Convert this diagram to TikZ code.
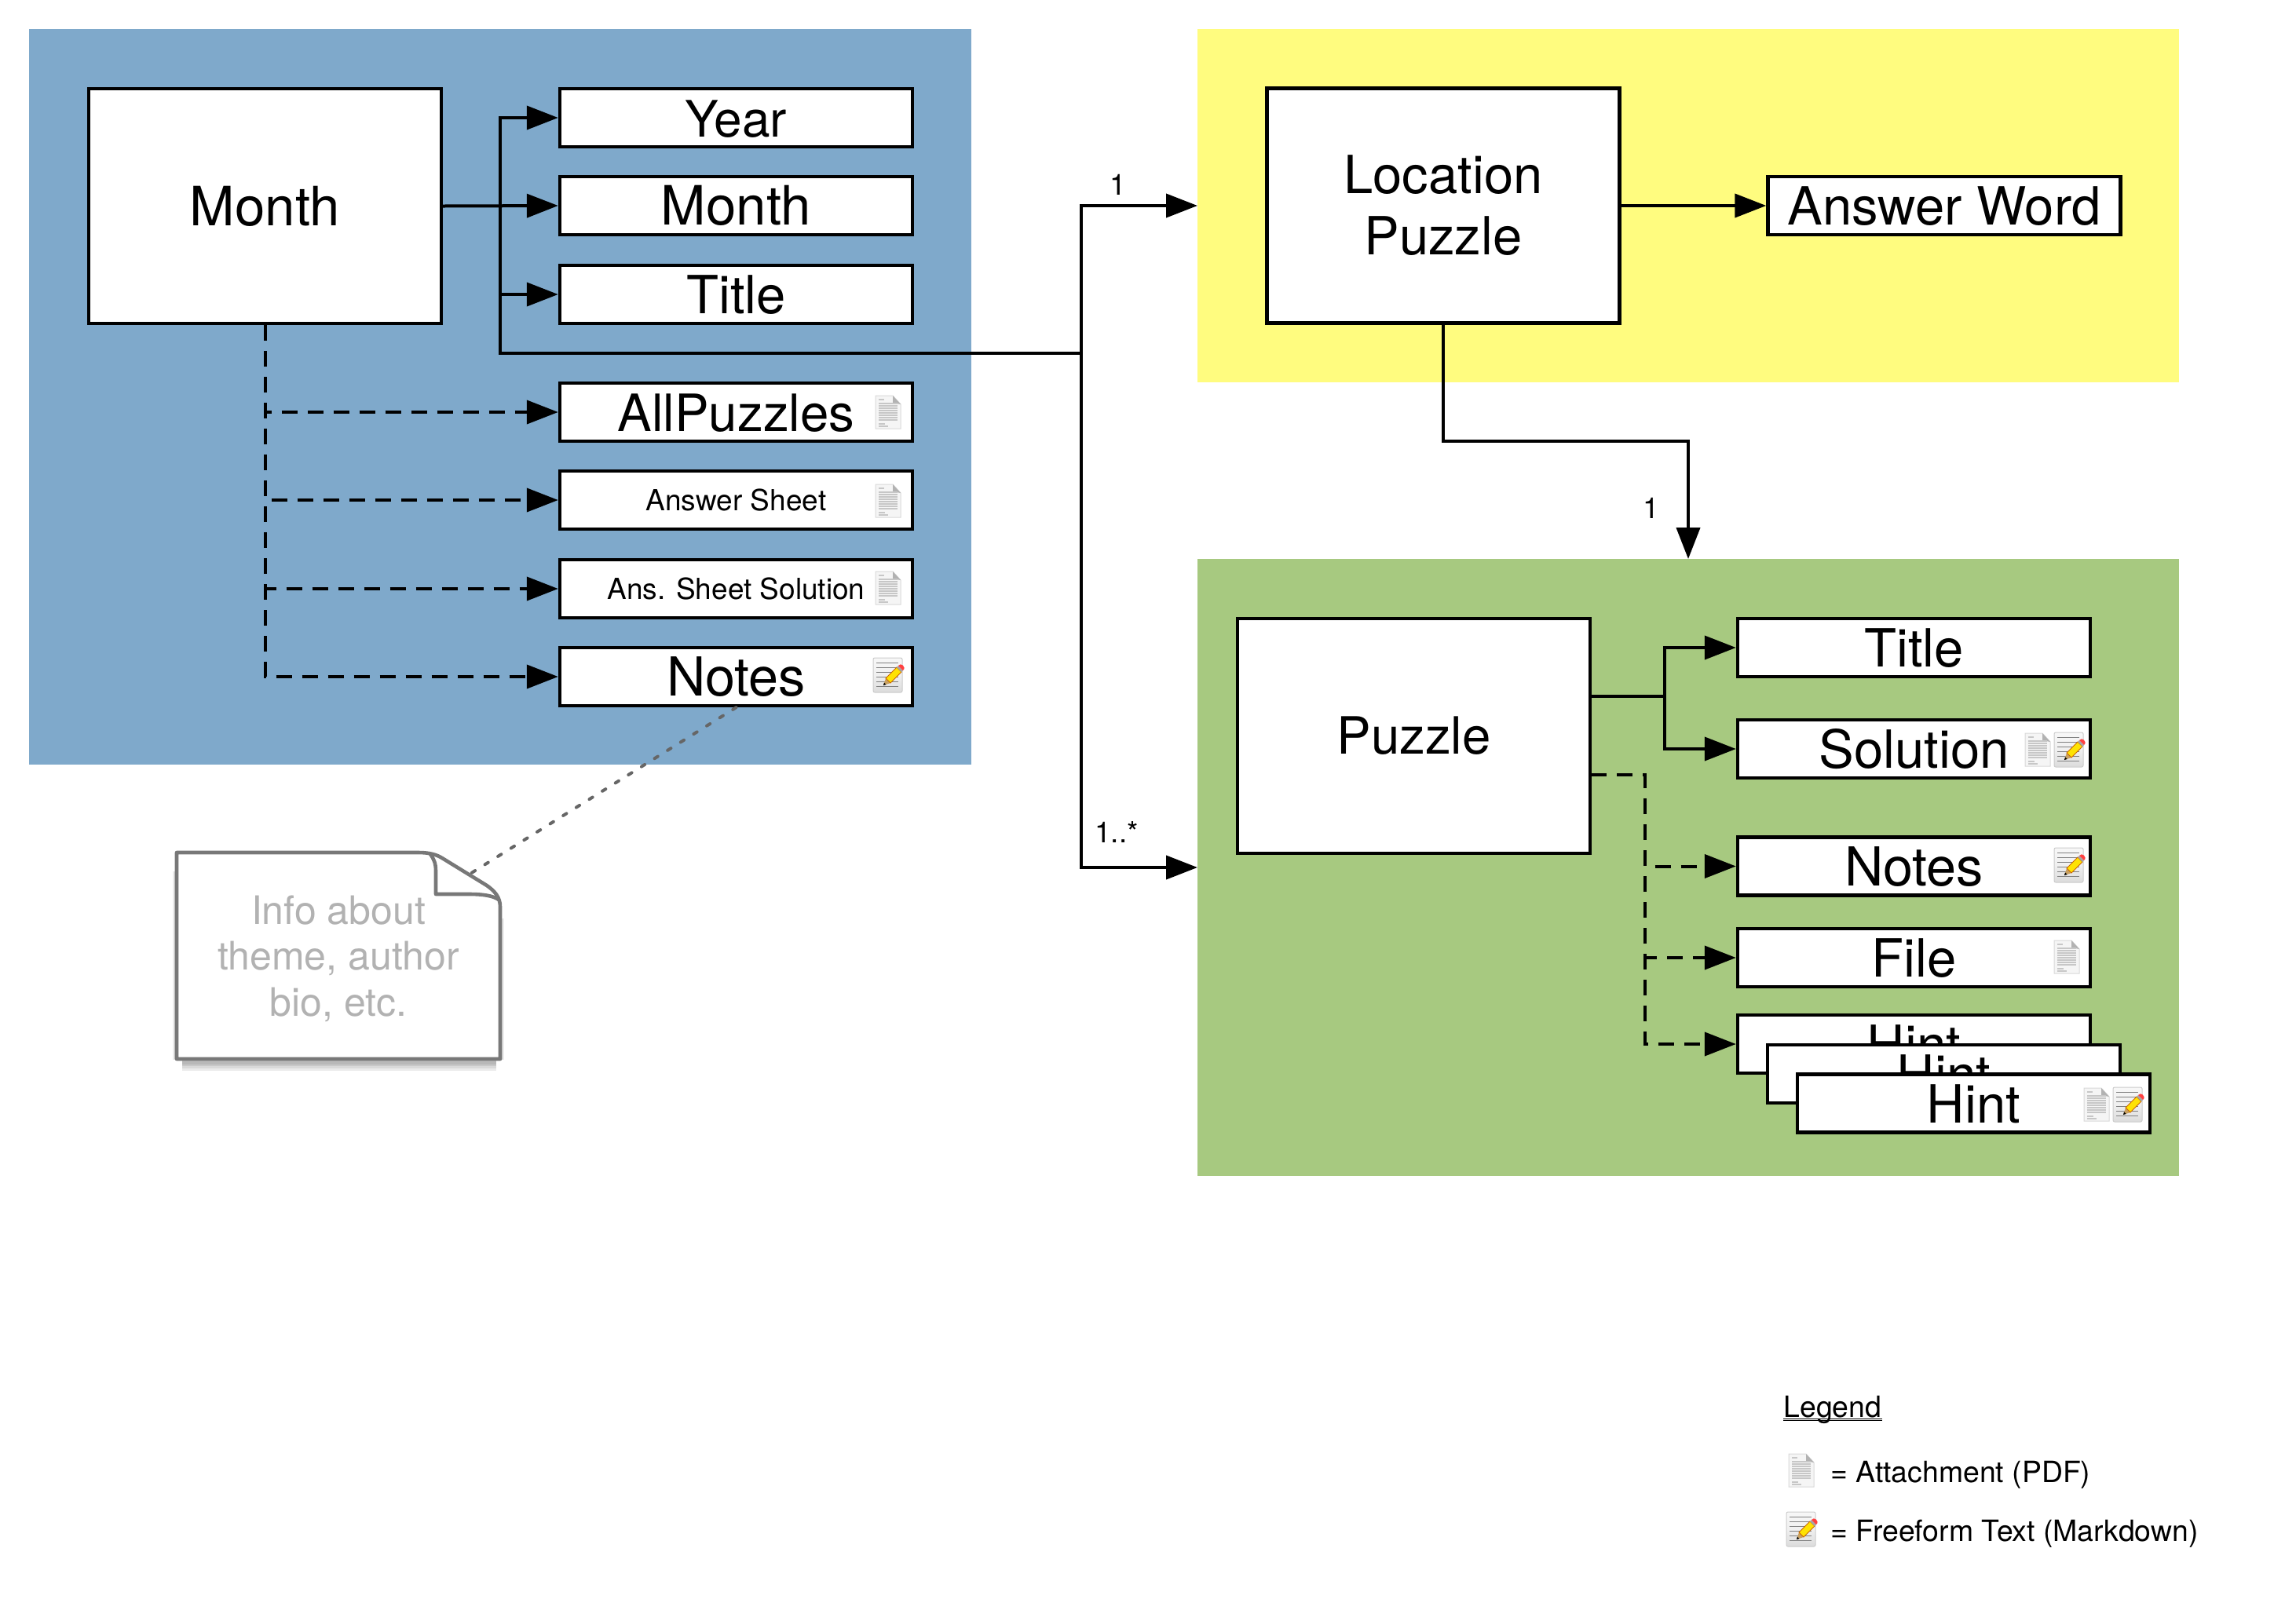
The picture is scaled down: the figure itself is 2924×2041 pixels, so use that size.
\documentclass[tikz,border=0pt]{standalone}
\usepackage{fontspec}
\setmainfont{TeX Gyre Heros}
\usetikzlibrary{arrows.meta}
\definecolor{bluebg}{HTML}{7FA9CB}
\definecolor{yellowbg}{HTML}{FFFC7F}
\definecolor{greenbg}{HTML}{A7C980}
\definecolor{notegray}{HTML}{787878}
\definecolor{pencilwood}{HTML}{C8A060}
\tikzset{
  region/.style={inner sep=0pt,outer sep=0pt,minimum width=#1},
  bigbox/.style={draw=black,line width=2.2pt,fill=white,minimum width=224.5pt,minimum height=149.5pt,inner sep=0pt,font=\fontsize{33.5}{39}\selectfont,align=center},
  fieldbox/.style={draw=black,line width=2.2pt,fill=white,minimum width=224.5pt,minimum height=37pt,inner sep=0pt,text height=24.6pt,text depth=0pt,font=\fontsize{33.5}{39}\selectfont},
  smallfield/.style={fieldbox,text height=13.3pt,font=\fontsize{18.5}{22}\selectfont},
  fs/.style={font=\fontsize{#1}{39}\selectfont},
  conn/.style={draw=black,line width=2pt,-{Triangle[length=20pt,width=15pt]}},
  plainconn/.style={draw=black,line width=2pt},
  dashconn/.style={conn,dash pattern=on 10pt off 6.5pt},
  notelink/.style={draw=black!60,line width=2pt,line cap=round,dash pattern=on 2.5pt off 7.3pt},
  smalllabel/.style={inner sep=0pt,font=\fontsize{18.5}{22}\selectfont},
  legendlabel/.style={inner sep=0pt,font=\fontsize{18.7}{22}\selectfont},
  notetext/.style={inner sep=0pt,align=center,text=black!30,font=\fontsize{25}{29.3}\selectfont},
  pics/docicon/.style={code={
    \path[fill=white!96!black,draw=black!15,line width=.5pt] (-16,-21) -- (6,-21) -- (16,-10) -- (16,21) -- (-16,21) -- cycle;
    \path[fill=black!30] (6,-21) -- (16,-10) -- (6,-12) -- cycle;
    \draw[black!22,line width=.9pt] (-12,-16) -- (-5,-16);
    \foreach \yy in {-11,-8,-5,-2,1,4,7,10} {\draw[black!22,line width=.9pt] (-12,\yy) -- (12,\yy);}
    \draw[black!22,line width=.7pt] (-12,15) -- (-4,15) (-12,18) -- (0,18);
  }},
  pics/noteicon/.style={code={
    \path[rounded corners=1pt,top color=white!97!black,bottom color=black!14,middle color=white!94!black,draw=black!20,line width=.5pt] (-21,-22) rectangle (16,22);
    \foreach \yy in {-16,-10,-4,2,8,14} {\draw[black!50,line width=.5pt] (-17,\yy) -- (11,\yy);}
    \path[fill=pencilwood] (-8,13) -- (-5,4) -- (1,10) -- cycle;
    \path[fill=black] (-8,13) -- (-7,9.5) -- (-4.5,12) -- cycle;
    \path[fill=yellow!85!orange,draw=orange!80!black,line width=.4pt] (-5,4) -- (9,-10) -- (15,-4) -- (1,10) -- cycle;
    \path[fill=black!35] (9,-10) -- (11,-12) -- (17,-6) -- (15,-4) -- cycle;
    \path[fill=red!75!white] (11,-12) .. controls (14,-17) and (22,-10) .. (17,-6) -- cycle;
  }}
}
\begin{document}
\begin{tikzpicture}[x=0.5pt,y=-0.5pt]
\useasboundingbox (0,0) rectangle (2924,2041);
% regions
\node[region=600pt,minimum height=468.5pt,fill=bluebg] (bluereg) at (637,505.5) {};
\node[region=625pt,minimum height=225pt,fill=yellowbg] (yellowreg) at (2150,262) {};
\node[region=625pt,minimum height=393pt,fill=greenbg] (greenreg) at (2150,1105) {};
% month group
\node[bigbox,fs=34.5] (month) at (337.5,262.5) {Month};
\node[fieldbox,fs=32] (year) at (937.5,150) {Year};
\node[fieldbox,fs=34.5] (monthf) at (937.5,262) {Month};
\node[fieldbox] (titlef) at (937.5,375) {Title};
\node[fieldbox,fs=32.7] (allp) at (937.5,525) {AllPuzzles};
\node[smallfield] (anss) at (937.5,637) {Answer Sheet};
\node[smallfield] (anssol) at (937.5,750) {Ans. Sheet Solution};
\node[fieldbox,fs=34.2] (notesm) at (937.5,862) {Notes};
\pic at (1131,525) {docicon};
\pic at (1131,638) {docicon};
\pic at (1131,749) {docicon};
\pic at (1133,860) {noteicon};
% location group
\node[bigbox] (loc) at (1838,262) {Location\\Puzzle};
\node[fieldbox] (answer) at (2476,262) {Answer Word};
% puzzle group
\node[bigbox,fs=32.7] (puzzle) at (1800.5,937.5) {Puzzle};
\node[fieldbox] (ptitle) at (2437.5,825) {Title};
\node[fieldbox] (psol) at (2437.5,954) {Solution};
\node[fieldbox,fs=34.2] (pnotes) at (2437.5,1103.5) {Notes};
\node[fieldbox] (pfile) at (2437.5,1220) {File};
\node[fieldbox] (hinta) at (2437.5,1330) {Hint};
\node[fieldbox] (hintb) at (2475.5,1368) {Hint};
\node[fieldbox] (hintc) at (2513.5,1405.5) {Hint};
\pic at (2595,955) {docicon};
\pic at (2637,955) {noteicon};
\pic at (2637,1102) {noteicon};
\pic at (2632,1219) {docicon};
\pic at (2670,1407) {docicon};
\pic at (2712,1407) {noteicon};
% helper coordinates
\coordinate (mj) at (637,262);
\coordinate (busc) at (637,450);
\coordinate (busr) at (1377,450);
\coordinate (locm) at (2150,562);
\coordinate (pzs) at (2026,887);
\coordinate (pzj) at (2120,887);
\coordinate (pzd) at (2026,987);
\coordinate (pdj) at (2095,987);
\coordinate (noteat) at (594,1116);
% month connectors
\draw[conn] (month.east) -- (monthf.west);
\draw[conn] (mj) |- (year.west);
\draw[conn] (mj) |- (titlef.west);
\draw[plainconn] (mj) -- (busc) -- (busr);
\draw[conn] (busr) |- (yellowreg.west);
\draw[conn] (busr) |- (greenreg.west);
\draw[dashconn] (month.south) |- (allp.west);
\draw[dashconn] (month.south) |- (anss.west);
\draw[dashconn] (month.south) |- (anssol.west);
\draw[dashconn] (month.south) |- (notesm.west);
% location connectors
\draw[conn] (loc.east) -- (answer.west);
\draw[conn] (loc.south) |- (locm) -- (greenreg.north);
% puzzle connectors
\draw[plainconn] (pzs) -- (pzj);
\draw[conn] (pzj) |- (ptitle.west);
\draw[conn] (pzj) |- (psol.west);
\draw[dashconn] (pzd) -- (pdj) |- (pnotes.west);
\draw[dashconn] (pzd) -- (pdj) |- (pfile.west);
\draw[dashconn] (pzd) -- (pdj) |- (hinta.west);
% labels
\node[smalllabel] (lbla) at (1424,235) {1};
\node[smalllabel] (lblb) at (2103,647) {1};
\node[smalllabel] (lblc) at (1422,1060) {1..*};
% note link
\draw[notelink] (notesm.south) -- (noteat);
% note shadow
\foreach \w in {10,7,4,2} {
  \path[draw=black,opacity=.08,line width=\w pt] (232,1354) -- (632,1354);
  \path[draw=black,opacity=.07,line width=.6*\w pt] (226,1110) -- (226,1350);
  \path[draw=black,opacity=.07,line width=.6*\w pt] (636,1170) -- (636,1350);
}
% note
\path[fill=white,draw=notegray,line width=2.3pt,line join=round]
  (225,1086) -- (533,1086) .. controls (545,1086) and (555,1088) .. (563,1093) -- (620,1128)
  .. controls (630,1135) and (637,1143) .. (637,1155) -- (637,1349) -- (225,1349) -- cycle;
\path[draw=notegray,line width=2.3pt,line join=round]
  (548,1088) .. controls (553,1095) and (555,1100) .. (555,1110) -- (555,1139) -- (597,1139)
  .. controls (615,1139) and (628,1141) .. (635,1146);
\node[notetext] (notetxt) at (431,1221) {Info about\\theme, author\\bio, etc.};
% legend
\node[legendlabel,anchor=base west] (legendt) at (2271,1805) {Legend};
\draw[black,line width=.35pt] ([yshift=-1.2pt]legendt.base west) -- ([yshift=-1.2pt]legendt.base east);
\draw[black,line width=.35pt] ([yshift=-2.4pt]legendt.base west) -- ([yshift=-2.4pt]legendt.base east);
\pic at (2294,1873) {docicon};
\pic at (2296,1948) {noteicon};
\node[legendlabel,anchor=base west] (lega) at (2331,1888) {= Attachment (PDF)};
\node[legendlabel,anchor=base west] (legb) at (2331,1963) {= Freeform Text (Markdown)};
\end{tikzpicture}
\end{document}
